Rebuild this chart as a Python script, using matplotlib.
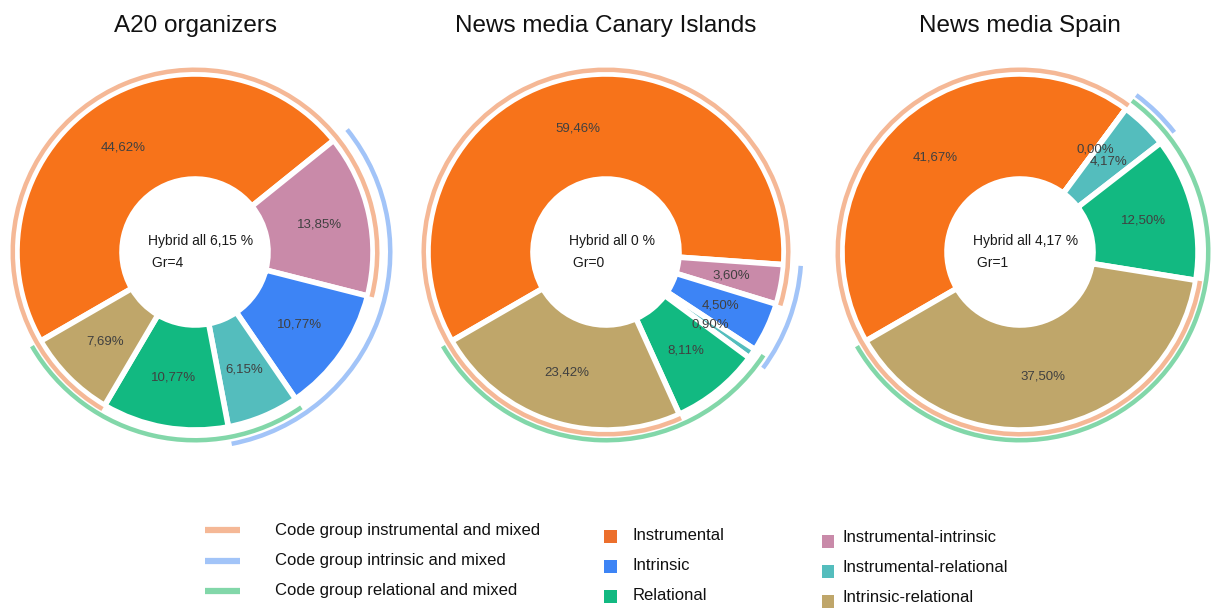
import math
import matplotlib
matplotlib.use("Agg")
import matplotlib.pyplot as plt
from matplotlib.patches import Wedge, Rectangle
from matplotlib.lines import Line2D

plt.rcParams['font.family'] = ['Liberation Sans', 'DejaVu Sans']

# ---------------- data ----------------
titles = ["A20 organizers", "News media Canary Islands", "News media Spain"]
categories = ["Instrumental", "Instrumental-intrinsic", "Intrinsic",
              "Instrumental-relational", "Relational", "Intrinsic-relational"]
a20_values = [44.62, 13.85, 10.77, 6.15, 10.77, 7.69]
canary_values = [59.46, 3.60, 4.50, 0.90, 8.11, 23.42]
spain_values = [41.67, 0.00, None, 4.17, 12.50, 37.50]   # None = not reported
hybrid_all = ["6,15", "0", "4,17"]
hybrid_gr = [4, 0, 1]

code_groups = ["Code group instrumental and mixed",
               "Code group intrinsic and mixed",
               "Code group relational and mixed"]
# wedges (clockwise order) spanned by each code-group arc, as drawn
code_group_spans = [
    ["Intrinsic-relational", "Instrumental", "Instrumental-intrinsic"],
    ["Instrumental-intrinsic", "Intrinsic", "Instrumental-relational"],
    ["Instrumental-relational", "Relational", "Intrinsic-relational"],
]

# ---------------- style ----------------
cat_colors = {
    "Instrumental": "#F7731A",
    "Instrumental-intrinsic": "#C98AA9",
    "Intrinsic": "#3D84F5",
    "Instrumental-relational": "#54BDBD",
    "Relational": "#12B981",
    "Intrinsic-relational": "#BFA66A",
}
legend_colors = {
    "Instrumental": "#EC6F2C",
    "Instrumental-intrinsic": "#C98AA9",
    "Intrinsic": "#3D84F5",
    "Instrumental-relational": "#54BDBD",
    "Relational": "#12B981",
    "Intrinsic-relational": "#BFA66A",
}
group_colors = ["#F5B896", "#A2C4F8", "#82D7A9"]
group_radii = [(180, 184.5), (193, 197.5), (186, 190.5)]

W, H = 1211, 608
centers_x = [195, 606, 1020]
center_y = 252
S = 215
R_OUT, R_W = 178, 105

fig = plt.figure(figsize=(W / 100, H / 100), dpi=100)
ov = fig.add_axes([0, 0, 1, 1])
ov.set_xlim(0, W)
ov.set_ylim(H, 0)
ov.axis('off')

all_values = [a20_values, canary_values, spain_values]

for i, vals in enumerate(all_values):
    cx = centers_x[i]
    ax = fig.add_axes([(cx - S) / W, (H - center_y - S) / H, 2 * S / W, 2 * S / H])
    pie_vals = [0 if v is None else v for v in vals]
    wedges, _ = ax.pie(pie_vals, colors=[cat_colors[c] for c in categories],
                       startangle=210, counterclock=False, radius=R_OUT,
                       explode=[0.018] * len(vals),
                       wedgeprops=dict(width=R_W, edgecolor='white', linewidth=4))
    ax.set_xlim(-S, S)
    ax.set_ylim(-S, S)
    ax.axis('off')

    for w, v in zip(wedges, vals):
        if v is None:
            continue
        ang = math.radians((w.theta1 + w.theta2) / 2)
        r = 127
        ax.text(r * math.cos(ang), r * math.sin(ang),
                f"{v:.2f}".replace('.', ',') + "%",
                ha='center', va='center', fontsize=9.5, color='#404040')

    # code-group arcs
    wmap = dict(zip(categories, wedges))
    for g, span in enumerate(code_group_spans):
        first, last = wmap[span[0]], wmap[span[-1]]
        t1 = last.theta1
        t2 = first.theta2
        while t2 <= t1:
            t2 += 360
        r0, r1 = group_radii[g]
        ax.add_patch(Wedge((0, 0), r1, t1, t2, width=r1 - r0,
                           facecolor=group_colors[g], edgecolor='none'))

    ax.text(6, 0, f"Hybrid all {hybrid_all[i]} %\n Gr={hybrid_gr[i]}",
            ha='center', va='center', multialignment='left',
            fontsize=10, color='#1a1a1a', linespacing=1.65)

    ov.text(cx, 26, titles[i], ha='center', va='center',
            fontsize=17.5, color='#111111')

# ---------------- legend ----------------
for k, name in enumerate(code_groups):
    y = 530 + k * 30.5
    ov.add_line(Line2D([205, 240], [y, y], color=group_colors[k], linewidth=4.5,
                       solid_capstyle='butt'))
    ov.text(275, y, name, ha='left', va='center', fontsize=12, color='#111111')

col2 = ["Instrumental", "Intrinsic", "Relational"]
for k, name in enumerate(col2):
    y = 536 + k * 30
    ov.add_patch(Rectangle((604, y - 6.5), 13, 13, facecolor=legend_colors[name],
                           edgecolor='none'))
    ov.text(633, y - 1, name, ha='left', va='center', fontsize=12, color='#111111')

col3 = ["Instrumental-intrinsic", "Instrumental-relational", "Intrinsic-relational"]
for k, name in enumerate(col3):
    y = 541 + k * 30
    ov.add_patch(Rectangle((822, y - 6.5), 12, 13, facecolor=legend_colors[name],
                           edgecolor='none'))
    ov.text(843, y - 3, name, ha='left', va='center', fontsize=12, color='#111111')

fig.savefig("out.png", dpi=100, facecolor='white')
